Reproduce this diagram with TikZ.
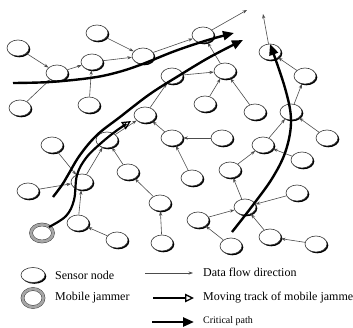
\documentclass[tikz,border=0pt]{standalone}
\usepackage{fontspec}
\setmainfont{Liberation Serif}
\usetikzlibrary{arrows.meta,shapes.geometric,shadows}
\begin{document}
\begin{tikzpicture}[x=1pt,y=-1pt,
  sensor/.style={ellipse,draw=black!80,line width=0.6pt,fill=white,minimum width=22pt,minimum height=16pt,inner sep=0pt,
    drop shadow={shadow xshift=1.3pt,shadow yshift=-1.3pt,opacity=1,fill=black}},
  jammer/.style={ellipse,draw=black!75,line width=0.5pt,double=black!35,double distance=2.6pt,fill=white,
    minimum width=22pt,minimum height=17pt,inner sep=0pt},
  flow/.style={draw=black!70,line width=0.6pt,-{Stealth[length=4.5pt,width=3.2pt]}},
  crit/.style={line width=2.4pt,-{Triangle[length=11pt,width=9pt]}},
  track/.style={line width=2.2pt,-{Triangle[open,length=9pt,width=8.5pt,line width=1.3pt]}},
  lab/.style={anchor=west,inner sep=0pt,font=\fontsize{12}{14}\selectfont}
]
\useasboundingbox (0,0) rectangle (353,327);
\fill[white] (0,0) rectangle (353,327);

% sensor nodes
\node[sensor] (n1) at (18,48) {};
\node[sensor] (n2) at (97,33) {};
\node[sensor] (n3) at (57,73) {};
\node[sensor] (n4) at (92,62) {};
\node[sensor] (n5) at (143,56) {};
\node[sensor] (n6) at (20,108) {};
\node[sensor] (n7) at (89,105) {};
\node[sensor] (n8) at (172,76) {};
\node[sensor] (n9) at (145,115) {};
\node[sensor] (n10) at (203,35) {};
\node[sensor] (n11) at (225,71) {};
\node[sensor] (n12) at (205,104) {};
\node[sensor] (n13) at (255,112) {};
\node[sensor] (n14) at (270,52) {};
\node[sensor] (n15) at (305,76) {};
\node[sensor] (n16) at (291,112) {};
\node[sensor] (n17) at (327,138) {};
\node[sensor] (n19) at (222,138) {};
\node[sensor] (n20) at (172,138) {};
\node[sensor] (n21) at (192,178) {};
\node[sensor] (n22) at (263,145) {};
\node[sensor] (n23) at (302,160) {};
\node[sensor] (n24) at (230,170) {};
\node[sensor] (n25) at (297,193) {};
\node[sensor] (n26) at (245,207) {};
\node[sensor] (n27) at (198,220) {};
\node[sensor] (n28) at (270,237) {};
\node[sensor] (n29) at (231,246) {};
\node[sensor] (n30) at (316,244) {};
\node[sensor] (n31) at (52,145) {};
\node[sensor] (n32) at (107,140) {};
\node[sensor] (n33) at (82,182) {};
\node[sensor] (n34) at (28,191) {};
\node[sensor] (n35) at (128,172) {};
\node[sensor] (n36) at (160,203) {};
\node[sensor] (n37) at (78,223) {};
\node[sensor] (n38) at (117,240) {};
\node[sensor] (n39) at (162,243) {};
\node[jammer] (jam) at (42,233) {};

\coordinate (f10) at (247,10);
\coordinate (f14) at (263,14);

% data flow
\foreach \a/\b in {n1/n3,n6/n3,n3/n4,n7/n4,n2/n5,n4/n5,n5/n10,n10/f10,n11/n10,n8/n11,n9/n8,
  n12/n11,n13/n11,n14/f14,n15/n14,n16/n15,n22/n16,n17/n16,n23/n22,n24/n22,n26/n24,n25/n26,
  n27/n26,n28/n26,n30/n28,n29/n27,n19/n20,n21/n20,n20/n9,n32/n9,n33/n32,n35/n32,n36/n35,
  n39/n36,n31/n33,n34/n33,n37/n33,n38/n37}
  \draw[flow] (\a) -- (\b);

% critical paths and jammer track
\draw[crit] plot[smooth,tension=0.6] coordinates {(13,83) (50,82) (90,78) (115,73) (140,65) (175,51) (208,40) (234,33)};
\draw[crit] plot[smooth,tension=0.6] coordinates {(53,197) (62,185) (68,175) (80,155) (97,135) (120,117) (150,94) (180,75) (210,57) (243,40)};
\draw[crit] plot[smooth,tension=0.6] coordinates {(232,232) (253,205) (273,177) (286,150) (291,120) (285,88) (270,44)};
\draw[track] plot[smooth,tension=0.6] coordinates {(49,227) (66,216) (74,200) (77,175) (86,158) (100,144) (116,131) (131,121)};

% legend
\node[sensor,minimum width=24pt,minimum height=15pt] (ls) at (33,275) {};
\node[jammer,minimum width=21pt,minimum height=18pt] (lj) at (33,298) {};
\node[lab] (t1) at (55,275) {Sensor node};
\node[lab] (t2) at (55,298) {Mobile jammer};
\coordinate (a1s) at (145,273); \coordinate (a1e) at (193,273);
\coordinate (a2s) at (153,298); \coordinate (a2e) at (194,298);
\coordinate (a3s) at (152,322); \coordinate (a3e) at (194,322);
\draw[flow] (a1s) -- (a1e);
\draw[track] (a2s) -- (a2e);
\draw[crit] (a3s) -- (a3e);
\node[lab] (t3) at (203,272) {Data flow direction};
\node[lab] (t4) at (203,298) {Moving track of mobile jammer};
\node[lab,font=\fontsize{10}{12}\selectfont] (t5) at (203,321) {Critical path};
\end{tikzpicture}
\end{document}
